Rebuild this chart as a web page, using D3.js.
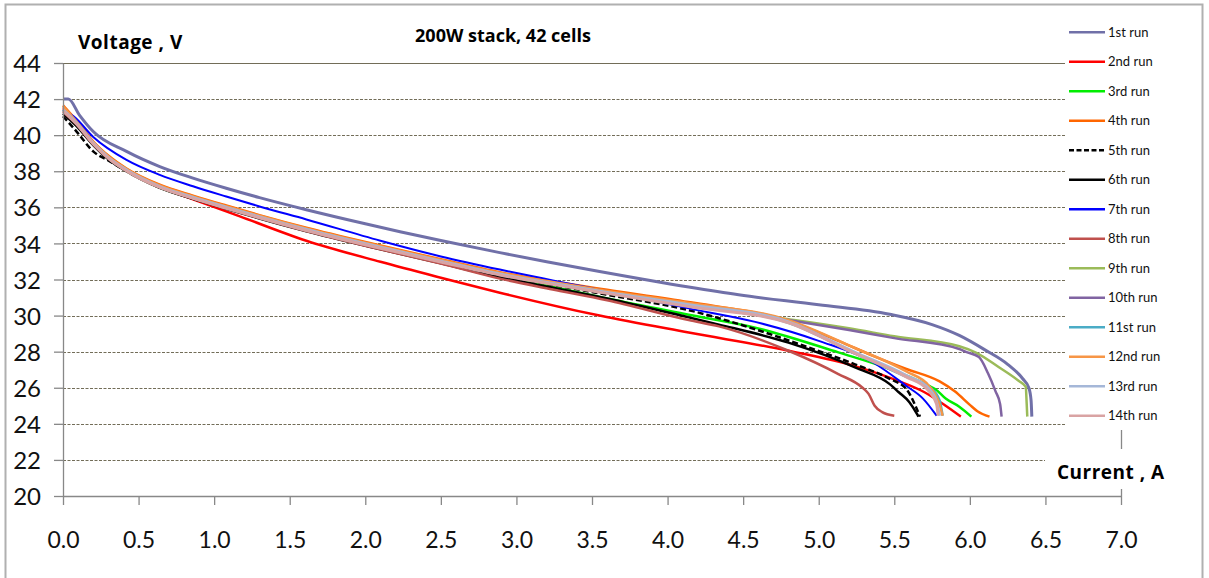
<!DOCTYPE html>
<html>
<head>
<meta charset="utf-8">
<script src="https://cdn.jsdelivr.net/npm/d3@7"></script>
<style>
  body { margin: 0; background: #fff; }
  svg { display: block; font-family: Lato, "Open Sans", sans-serif; }
</style>
</head>
<body>
<svg id="chart" width="1209" height="578"></svg>
<script>
// current (A) vs stack voltage (V)
const xTicks = [0, 0.5, 1, 1.5, 2, 2.5, 3, 3.5, 4, 4.5, 5, 5.5, 6, 6.5, 7];
const yTicks = [20, 22, 24, 26, 28, 30, 32, 34, 36, 38, 40, 42, 44];

const runNames = ["1st run", "2nd run", "3rd run", "4th run", "5th run", "6th run", "7th run",
  "8th run", "9th run", "10th run", "11st run", "12nd run", "13rd run", "14th run"];
const runColors = ["#7070a8", "#ff0000", "#00ee00", "#ff6600", "#000000", "#000000", "#0000ff",
  "#c0504d", "#9bbb59", "#8064a2", "#4bacc6", "#f79646", "#a5b7d8", "#d9a3a3"];
const runWidths = [3, 2.5, 2.5, 2.5, 2.5, 2.5, 2, 2.5, 2.5, 2.5, 2.5, 2.5, 3, 3];

const run1 = [[0,42.0],[0.035,42.0],[0.11,41.1],[0.2,40.2],[0.42,39.1],[0.64,38.26],[0.86,37.62],[1.08,37.06],[1.3,36.54],[1.61,35.87],[2.0,35.09],[2.23,34.65],[2.5,34.16],[2.89,33.49],[3.2,32.98],[3.55,32.44],[4.14,31.58],[4.47,31.15],[5.0,30.6],[5.47,30.07],[5.75,29.5],[5.93,28.9],[6.1,28.1],[6.25,27.3],[6.35,26.5],[6.39,26.0],[6.405,25.3],[6.41,24.4]];
const run2 = [[0,41.5],[0.09,40.67],[0.2,39.56],[0.31,38.7],[0.42,38.07],[0.64,37.12],[0.86,36.45],[1.17,35.5],[1.61,34.15],[2.1,32.98],[2.5,32.1],[2.89,31.27],[3.55,30.0],[4.14,29.06],[4.8,28.05],[5.24,27.2],[5.55,26.3],[5.7,25.75],[5.84,25.0],[5.94,24.4]];
const run3 = [[0,41.4],[0.09,40.6],[0.2,39.5],[0.31,38.65],[0.42,38.02],[0.64,37.1],[0.86,36.5],[1.08,35.95],[1.3,35.42],[1.61,34.72],[2.05,33.82],[2.5,32.95],[2.89,32.2],[3.24,31.6],[3.6,30.95],[4.14,30.05],[4.58,29.33],[5.13,27.96],[5.47,27.04],[5.73,26.1],[5.77,25.93],[5.84,25.4],[5.93,24.95],[6.01,24.4]];
const run4 = [[0,41.65],[0.09,40.8],[0.2,39.65],[0.31,38.8],[0.42,38.15],[0.64,37.25],[0.86,36.65],[1.08,36.1],[1.3,35.57],[1.61,34.87],[2.05,33.98],[2.5,33.12],[2.89,32.4],[3.24,31.9],[3.6,31.43],[4.14,30.75],[4.8,29.7],[5.13,28.6],[5.36,27.77],[5.58,27.04],[5.8,26.35],[5.9,25.8],[6.0,25.05],[6.05,24.7],[6.13,24.4]];
const run5 = [[0,41.05],[0.09,40.2],[0.2,39.1],[0.31,38.55],[0.42,38.0],[0.64,37.1],[0.86,36.5],[1.08,35.95],[1.3,35.42],[1.61,34.72],[2.05,33.82],[2.5,32.95],[2.89,32.2],[3.24,31.7],[3.6,31.15],[4.14,30.3],[4.58,29.24],[4.91,28.3],[5.24,27.3],[5.47,26.49],[5.58,25.93],[5.64,25.0],[5.67,24.4]];
const run6 = [[0,41.2],[0.09,40.5],[0.2,39.45],[0.31,38.6],[0.42,38.0],[0.64,37.08],[0.86,36.47],[1.08,35.92],[1.3,35.38],[1.61,34.67],[2.05,33.77],[2.5,32.9],[2.89,32.12],[3.24,31.55],[3.6,30.95],[4.14,29.9],[4.34,29.5],[4.8,28.5],[5.24,27.13],[5.47,26.2],[5.53,25.75],[5.6,25.2],[5.65,24.55],[5.66,24.4]];
const run7 = [[0,41.4],[0.02,41.3],[0.07,41.04],[0.2,39.9],[0.42,38.63],[0.64,37.8],[0.86,37.17],[1.08,36.6],[1.3,36.05],[1.61,35.33],[2.1,34.15],[2.5,33.28],[2.89,32.55],[3.24,31.95],[3.6,31.35],[4.14,30.4],[4.58,29.65],[5.0,28.6],[5.36,27.4],[5.58,26.1],[5.69,25.4],[5.78,24.45]];
const run8 = [[0,41.3],[0.09,40.6],[0.2,39.5],[0.31,38.65],[0.42,38.05],[0.64,37.12],[0.86,36.5],[1.08,35.95],[1.3,35.4],[1.61,34.68],[2.05,33.77],[2.5,32.88],[2.89,32.05],[3.24,31.45],[3.6,30.85],[4.14,29.75],[4.34,29.4],[4.8,28.05],[5.13,26.76],[5.29,26.0],[5.33,25.66],[5.37,25.0],[5.42,24.65],[5.5,24.45]];
const run9 = [[0,41.4],[0.09,40.67],[0.2,39.56],[0.31,38.7],[0.42,38.07],[0.64,37.15],[0.86,36.55],[1.08,36.0],[1.3,35.47],[1.61,34.77],[2.05,33.88],[2.5,33.02],[2.89,32.3],[3.24,31.78],[3.6,31.28],[4.14,30.6],[4.8,29.8],[5.2,29.3],[5.5,28.85],[5.93,28.3],[6.04,27.95],[6.19,27.15],[6.32,26.4],[6.37,26.05],[6.375,25.3],[6.38,24.4]];
const run10 = [[0,41.4],[0.09,40.67],[0.2,39.56],[0.31,38.7],[0.42,38.07],[0.64,37.15],[0.86,36.55],[1.08,36.0],[1.3,35.47],[1.61,34.77],[2.05,33.88],[2.5,33.02],[2.89,32.3],[3.24,31.78],[3.6,31.28],[4.14,30.6],[4.8,29.75],[5.2,29.2],[5.5,28.75],[5.93,28.15],[5.97,28.0],[6.06,27.7],[6.12,26.8],[6.17,25.8],[6.2,25.1],[6.21,24.4]];
const run11 = [[0,41.4],[0.09,40.64],[0.2,39.53],[0.31,38.67],[0.42,38.04],[0.64,37.12],[0.86,36.52],[1.08,35.97],[1.3,35.44],[1.61,34.74],[2.05,33.85],[2.5,32.99],[2.89,32.27],[3.24,31.75],[3.6,31.25],[4.14,30.55],[4.8,29.6],[5.24,27.9],[5.58,26.6],[5.74,26.0],[5.8,25.3],[5.82,24.45]];
const run12 = [[0,41.6],[0.09,40.75],[0.2,39.6],[0.31,38.75],[0.42,38.12],[0.64,37.21],[0.86,36.61],[1.08,36.06],[1.3,35.53],[1.61,34.83],[2.05,33.94],[2.5,33.08],[2.89,32.37],[3.24,31.86],[3.6,31.36],[4.14,30.7],[4.8,29.75],[5.24,28.2],[5.58,26.9],[5.73,26.1],[5.79,25.3],[5.82,24.45]];
const run13 = [[0,41.4],[0.09,40.67],[0.2,39.56],[0.31,38.7],[0.42,38.07],[0.64,37.15],[0.86,36.55],[1.08,36.0],[1.3,35.47],[1.61,34.77],[2.05,33.88],[2.5,33.02],[2.89,32.3],[3.24,31.78],[3.6,31.28],[4.14,30.6],[4.8,29.65],[5.24,27.96],[5.58,26.67],[5.73,25.93],[5.78,25.2],[5.8,24.45]];
const run14 = [[0,41.35],[0.09,40.62],[0.2,39.51],[0.31,38.65],[0.42,38.02],[0.64,37.1],[0.86,36.5],[1.08,35.95],[1.3,35.42],[1.61,34.72],[2.05,33.83],[2.5,32.97],[2.89,32.25],[3.24,31.73],[3.6,31.23],[4.14,30.5],[4.8,29.6],[5.24,27.9],[5.58,26.6],[5.72,25.9],[5.78,25.1],[5.79,24.45]];

const runs = [run1, run2, run3, run4, run5, run6, run7, run8, run9, run10, run11, run12, run13, run14];

const svg = d3.select("#chart");
const gridColor = "#726d58";

const x = d3.scaleLinear().domain([0, 7]).range([63, 1121]);
const y = d3.scaleLinear().domain([20, 44]).range([496, 63]);

// outer frame
svg.append("rect")
    .attr("x", 5.5).attr("y", 4.5)
    .attr("width", 1197).attr("height", 620)
    .attr("fill", "#fff")
    .attr("stroke", "#b0b0b0")
    .attr("stroke-width", 2);

// horizontal gridlines
svg.append("g")
  .selectAll("line")
  .data(yTicks.filter(d => d > 20))
  .enter().append("line")
    .attr("x1", x(0)).attr("x2", x(7))
    .attr("y1", d => Math.round(y(d)) + 0.5)
    .attr("y2", d => Math.round(y(d)) + 0.5)
    .attr("stroke", gridColor)
    .attr("stroke-width", 1)
    .attr("stroke-dasharray", d => d === 44 ? null : "3,1.5");

// right border of the plot area
svg.append("line")
    .attr("x1", x(7) + 0.5).attr("x2", x(7) + 0.5)
    .attr("y1", y(44)).attr("y2", y(20))
    .attr("stroke", "#888").attr("stroke-width", 1.3);

// the runs
const line = d3.line()
    .x(d => x(d[0]))
    .y(d => y(d[1]))
    .curve(d3.curveMonotoneX);

svg.append("g")
  .selectAll("path")
  .data(runs)
  .enter().append("path")
    .attr("d", line)
    .attr("fill", "none")
    .attr("stroke", (d, i) => runColors[i])
    .attr("stroke-width", (d, i) => runWidths[i])
    .attr("stroke-dasharray", (d, i) => i === 4 ? "6,3" : null)
    .attr("stroke-linejoin", "round");

// axes
const xAxis = svg.append("g")
    .attr("transform", "translate(0," + y(20) + ")")
    .call(d3.axisBottom(x).tickValues(xTicks).tickFormat(d3.format(".1f")).tickSize(9).tickSizeOuter(0));
xAxis.selectAll("text")
    .attr("y", 52).attr("dy", 0)
    .attr("font-size", 23).attr("fill", "#111")
    .attr("font-family", "Lato, sans-serif");

const yAxis = svg.append("g")
    .attr("transform", "translate(" + x(0) + ",0)")
    .call(d3.axisLeft(y).tickValues(yTicks).tickSize(9).tickSizeOuter(0));
yAxis.selectAll("text")
    .attr("x", -22).attr("dy", "0.36em")
    .attr("font-size", 24).attr("fill", "#111")
    .attr("font-family", "Lato, sans-serif");

svg.selectAll(".domain, .tick line").attr("stroke", "#888").attr("stroke-width", 1.3);

// titles
svg.append("text")
    .attr("x", 503).attr("y", 42)
    .attr("text-anchor", "middle")
    .attr("font-family", "'Open Sans', sans-serif")
    .attr("font-weight", "bold").attr("font-size", 18)
    .text("200W stack, 42 cells");

svg.append("text")
    .attr("x", 78).attr("y", 49)
    .attr("font-family", "'Open Sans', sans-serif")
    .attr("font-weight", "bold").attr("font-size", 19)
    .attr("letter-spacing", 0.5)
    .text("Voltage , V");

svg.append("rect")
    .attr("x", 1045).attr("y", 449).attr("width", 127).attr("height", 40)
    .attr("fill", "#fff");
svg.append("text")
    .attr("x", 1057).attr("y", 479)
    .attr("font-family", "'Open Sans', sans-serif")
    .attr("font-weight", "bold").attr("font-size", 19)
    .attr("letter-spacing", 0.5)
    .text("Current , A");

// legend
const legend = svg.append("g").attr("class", "key");
legend.append("rect")
    .attr("x", 1065).attr("y", 12).attr("width", 132).attr("height", 418)
    .attr("fill", "#fff");

const items = legend.selectAll(".legend-item")
  .data(runNames)
  .enter().append("g")
    .attr("class", "legend-item")
    .attr("transform", (d, i) => "translate(0," + (32.3 + i * 29.5) + ")");

items.append("line")
    .attr("x1", 1069).attr("x2", 1105)
    .attr("stroke", (d, i) => runColors[i])
    .attr("stroke-width", 2.5)
    .attr("stroke-dasharray", (d, i) => i === 4 ? "5,2.5" : null);

items.append("text")
    .attr("x", 1108).attr("dy", "0.36em")
    .attr("font-size", 13).attr("fill", "#111")
    .text(d => d);
</script>
</body>
</html>
